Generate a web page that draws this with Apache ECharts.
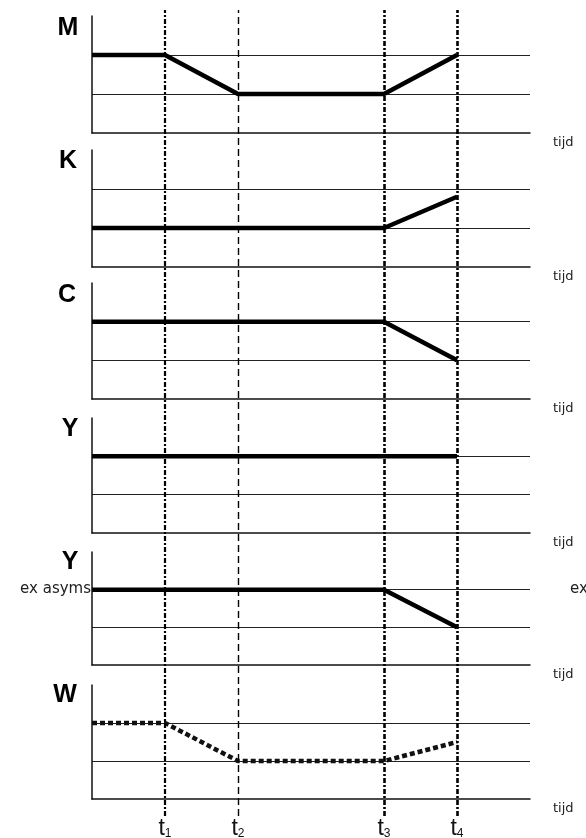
<!DOCTYPE html>
<html>
<head>
<meta charset="utf-8">
<script src="https://cdn.jsdelivr.net/npm/echarts@6/dist/echarts.min.js"></script>
<style>
  html, body { margin: 0; padding: 0; background: #fff; }
  #chart { width: 586px; height: 838px; }
</style>
</head>
<body>
<div id="chart"></div>
<script>
// tijdstippen t1..t4 op de tijd-as
const tPositions = [1, 2, 4, 5]
const tSubs = ['1', '2', '3', '4']
const panelNames = ['M', 'K', 'C', 'Y', 'Y', 'W']
const axisName = 'tijd'
const sideNote = 'ex asyms'

// verloop per paneel (tijd, niveau)
const mTimes = [0, 1, 2, 4, 5]
const mValues = [2, 2, 1, 1, 2]
const kTimes = [0, 4, 5]
const kValues = [1, 1, 1.8]
const cTimes = [0, 4, 5]
const cValues = [2, 2, 1]
const yTimes = [0, 5]
const yValues = [2, 2]
const yexTimes = [0, 4, 5]
const yexValues = [2, 2, 1]
const wTimes = [0, 1, 2, 4, 5]
const wValues = [2, 2, 1, 1, 1.5]

const panels = [
  { times: mTimes, values: mValues },
  { times: kTimes, values: kValues },
  { times: cTimes, values: cValues },
  { times: yTimes, values: yValues },
  { times: yexTimes, values: yexValues },
  { times: wTimes, values: wValues, dotted: true }
]

// layout (pixels)
const tops = [16, 150, 283, 418, 552, 685]
const heights = [117, 117, 116, 115, 113, 114]
const labelPos = [[68, 28], [68, 161], [67, 295], [70, 429], [70, 562], [65, 695]]
const LEFT = 92
const WIDTH = 438

const chart = echarts.init(document.getElementById('chart'))

const grids = []
const xAxes = []
const yAxes = []
const series = []

panels.forEach((p, i) => {
  grids.push({ left: LEFT, width: WIDTH, top: tops[i], height: heights[i] })
  xAxes.push({
    type: 'value', gridIndex: i, min: 0, max: 6,
    name: axisName, nameLocation: 'end', nameGap: 23,
    nameTextStyle: {
      align: 'left', verticalAlign: 'top', padding: [3, 0, 0, 0],
      fontSize: 13, fontFamily: 'DejaVu Sans', color: '#222'
    },
    axisLine: { show: true, lineStyle: { color: '#111', width: 1.5 } },
    axisTick: { show: false },
    axisLabel: { show: false },
    splitLine: { show: false }
  })
  yAxes.push({
    type: 'value', gridIndex: i, min: 0, max: 3, interval: 1,
    axisLine: { show: true, lineStyle: { color: '#111', width: 1.5 } },
    axisTick: { show: false },
    axisLabel: { show: false },
    splitLine: { show: true, showMinLine: false, showMaxLine: false, lineStyle: { color: '#222', width: 1.2 } }
  })
  series.push({
    type: 'line',
    xAxisIndex: i, yAxisIndex: i,
    data: p.times.map((t, j) => [t, p.values[j]]),
    symbol: 'none',
    silent: true,
    z: 3,
    lineStyle: p.dotted
      ? { color: '#111', width: 4.5, type: [5, 3] }
      : { color: '#000', width: 4.5 }
  })
})

// overlay grid voor de verticale tijdlijnen
const ov = panels.length
grids.push({ left: LEFT, width: WIDTH, top: 10, bottom: 22 })
xAxes.push({ type: 'value', gridIndex: ov, min: 0, max: 6, show: false })
yAxes.push({ type: 'value', gridIndex: ov, min: 0, max: 1, show: false })

const vStyles = [
  { width: 2.2, type: [5, 2, 2, 2] },
  { width: 1.4, type: [7, 4] },
  { width: 2.6, type: [5, 2, 2, 2] },
  { width: 2.6, type: [5, 2, 2, 2] }
]

series.push({
  type: 'line',
  xAxisIndex: ov, yAxisIndex: ov,
  data: [],
  silent: true,
  z: 4,
  markLine: {
    symbol: 'none',
    silent: true,
    animation: false,
    data: tPositions.map((t, i) => ({
      xAxis: t,
      lineStyle: Object.assign({ color: '#000' }, vStyles[i]),
      label: {
        show: true,
        position: 'start',
        distance: 1,
        formatter: '{t|t}{s|' + tSubs[i] + '}',
        rich: {
          t: { fontSize: 23, fontFamily: 'Liberation Sans Narrow, Liberation Sans', color: '#111' },
          s: { fontSize: 12, fontFamily: 'Liberation Sans', color: '#111', verticalAlign: 'bottom', padding: [10, 0, 0, 0] }
        }
      }
    }))
  }
})

const graphics = panelNames.map((name, i) => ({
  type: 'text',
  x: labelPos[i][0], y: labelPos[i][1],
  style: {
    text: name, fontSize: 25, fontWeight: 'bold',
    fontFamily: 'Liberation Sans, Arial', fill: '#000',
    align: 'center', verticalAlign: 'middle'
  }
}))
graphics.push({
  type: 'text', x: 91, y: 589,
  style: { text: sideNote, fontSize: 15, fontFamily: 'DejaVu Sans', fill: '#222', align: 'right', verticalAlign: 'middle' }
})
graphics.push({
  type: 'text', x: 570, y: 589,
  style: { text: sideNote, fontSize: 15, fontFamily: 'DejaVu Sans', fill: '#222', align: 'left', verticalAlign: 'middle' }
})

chart.setOption({
  animation: false,
  grid: grids,
  xAxis: xAxes,
  yAxis: yAxes,
  series,
  graphic: graphics
})
</script>
</body>
</html>
